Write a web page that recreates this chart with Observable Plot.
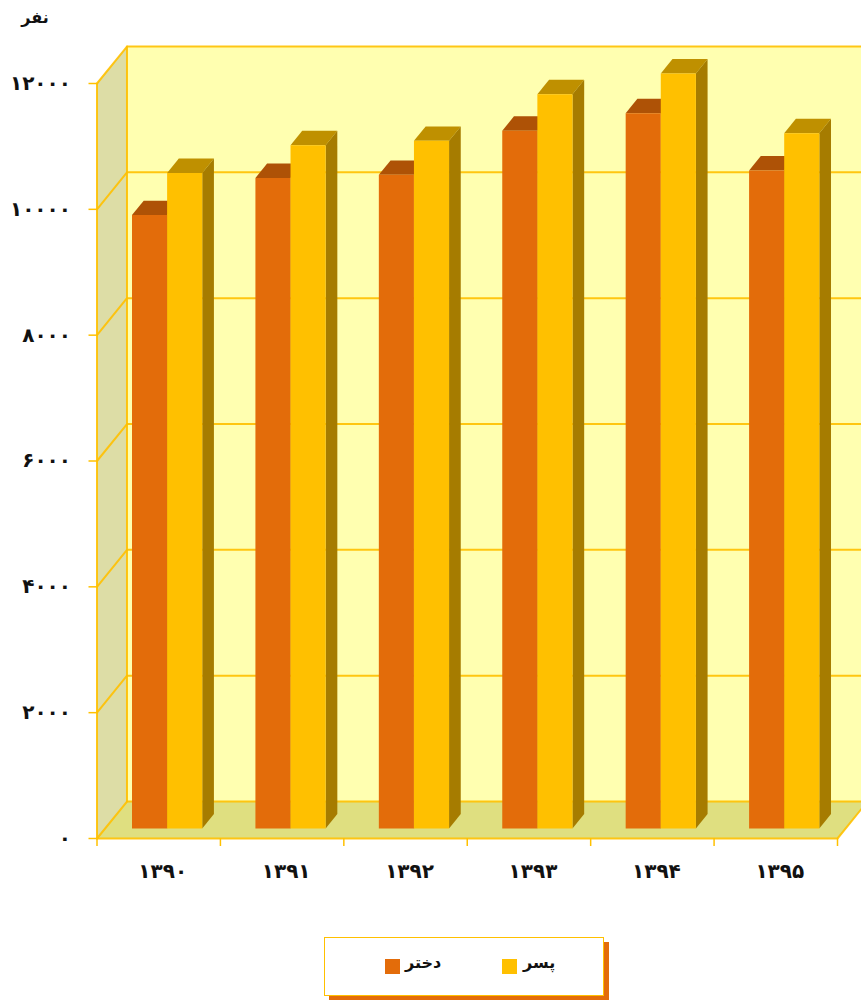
<!DOCTYPE html>
<html lang="fa">
<head>
<meta charset="utf-8">
<script src="https://cdn.jsdelivr.net/npm/d3@7"></script>
<script src="https://cdn.jsdelivr.net/npm/@observablehq/plot@0.6"></script>
<style>
  html, body { margin: 0; padding: 0; background: #fff; overflow: hidden; }
  #chart svg { display: block; overflow: hidden; }
  #legend {
    position: absolute; left: 324px; top: 937px; width: 278px; height: 57px;
    background: #fff; border: 1.5px solid #FFC000; box-shadow: 5px 5px 0 #E36C0A;
    font: bold 16px "DejaVu Sans", sans-serif; color: #111;
  }
  #legend .sw { position: absolute; top: 21px; width: 15px; height: 15px; }
  #legend .lb { position: absolute; top: 15px; direction: rtl; }
</style>
</head>
<body>
<div id="chart"></div>
<div id="legend"></div>
<script>
const years = ["۱۳۹۰", "۱۳۹۱", "۱۳۹۲", "۱۳۹۳", "۱۳۹۴", "۱۳۹۵"];
const girls = [9750, 10340, 10390, 11090, 11370, 10460];
const boys = [10420, 10860, 10930, 11670, 12000, 11050];
const yTicks = [0, 2000, 4000, 6000, 8000, 10000, 12000];
const yLabels = ["۰", "۲۰۰۰", "۴۰۰۰", "۶۰۰۰", "۸۰۰۰", "۱۰۰۰۰", "۱۲۰۰۰"];
const unitLabel = "نفر";
const girlName = "دختر";
const boyName = "پسر";

const ORANGE = "#E36C0A", ORANGE_TOP = "#AE5206";
const YELLOW = "#FFC000", YELLOW_TOP = "#BF9000", YELLOW_SIDE = "#A67C00";
const WALL = "#FFFFB0", SIDE_WALL = "#DDDDA6", FLOOR = "#DFDF80", LINE = "#FFC000";
const FONT = '"DejaVu Sans", sans-serif';

// Oblique projection: depth 0 is the front of the box, depth 1 the back wall.
const depthX = 0.243, depthY = 588;
const yMax = 12000, nCat = years.length;
const P = (c, v, d) => ({x: c + d * depthX, y: v + d * depthY});
const poly = (faces, fill, extra = {}) =>
  Plot.line(faces.flatMap((pts, id) => pts.map((p) => ({...p, id}))),
    {x: "x", y: "y", z: "id", fill, stroke: "none", ...extra});
const path = (segs, extra = {}) =>
  Plot.line(segs.flatMap((pts, id) => pts.map((p) => ({...p, id}))),
    {x: "x", y: "y", z: "id", stroke: LINE, strokeWidth: 2, strokeOpacity: 0.9, ...extra});

// Bars occupy a slice of depth and of each category band.
const zA = 0.27, zB = 0.66, barStart = 0.218, barW = 0.2845;
const faces = (values, offset) => {
  const front = [], top = [], side = [];
  values.forEach((v, i) => {
    const a = i + barStart + offset * barW, b = a + barW;
    front.push([P(a, 0, zA), P(b, 0, zA), P(b, v, zA), P(a, v, zA)]);
    top.push([P(a, v, zA), P(b, v, zA), P(b, v, zB), P(a, v, zB)]);
    side.push([P(b, 0, zA), P(b, 0, zB), P(b, v, zB), P(b, v, zA)]);
  });
  return {front, top, side};
};
const g = faces(girls, 0), b = faces(boys, 1);

const chart = Plot.plot({
  width: 861, height: 925,
  marginLeft: 96.5, marginRight: 24, marginTop: 83, marginBottom: 87,
  x: {domain: [0, nCat], axis: null},
  y: {domain: [0, yMax], axis: null},
  style: {background: "transparent", fontFamily: FONT},
  marks: [
    poly([[P(0, 0, 1), P(nCat, 0, 1), P(nCat, yMax, 1), P(0, yMax, 1)]], WALL),
    poly([[P(0, 0, 0), P(0, 0, 1), P(0, yMax, 1), P(0, yMax, 0)]], SIDE_WALL),
    poly([[P(0, 0, 0), P(nCat, 0, 0), P(nCat, 0, 1), P(0, 0, 1)]], FLOOR),
    path(yTicks.map((v) => [P(0, v, 0), P(0, v, 1), P(nCat, v, 1)])),
    path([
      [P(0, 0, 0), P(0, yMax, 0)],
      [P(0, 0, 1), P(0, yMax, 1)],
      [P(0, 0, 0), P(nCat, 0, 0), P(nCat, 0, 1)]
    ]),
    poly(g.top, ORANGE_TOP),
    poly(g.side, "#A85005"),
    poly(g.front, ORANGE),
    poly(b.top, YELLOW_TOP),
    poly(b.side, YELLOW_SIDE),
    poly(b.front, YELLOW),
    Plot.axisX(d3.range(nCat + 1), {
      anchor: "bottom", tickSize: 8, tickFormat: () => "", stroke: LINE, strokeWidth: 1.5, label: null
    }),
    Plot.axisY(yTicks, {
      anchor: "left", tickSize: 8, tickPadding: 18, stroke: LINE, strokeWidth: 1.5, label: null,
      tickFormat: (d) => yLabels[yTicks.indexOf(d)],
      fontSize: 20, fontWeight: "bold", fill: "#111", textStroke: "none"
    }),
    Plot.text(years, {
      x: (d, i) => i + 0.5, y: () => 0, text: (d) => d, dy: 33, dx: 4,
      fontSize: 20, fontWeight: "bold", fill: "#111", textAnchor: "middle"
    }),
    Plot.text([unitLabel], {
      frameAnchor: "top-left", dx: -62, dy: -72, text: (d) => d,
      fontSize: 16, fontWeight: "bold", fill: "#111", textAnchor: "middle", lineAnchor: "top"
    })
  ]
});
document.getElementById("chart").append(chart);

const legend = document.getElementById("legend");
[[ORANGE, girlName, 60, 80], [YELLOW, boyName, 177, 198]].forEach(([c, t, sx, tx]) => {
  const s = document.createElement("span");
  s.className = "sw"; s.style.left = sx + "px"; s.style.background = c;
  const l = document.createElement("span");
  l.className = "lb"; l.style.left = tx + "px"; l.textContent = t;
  legend.append(s, l);
});
</script>
</body>
</html>
